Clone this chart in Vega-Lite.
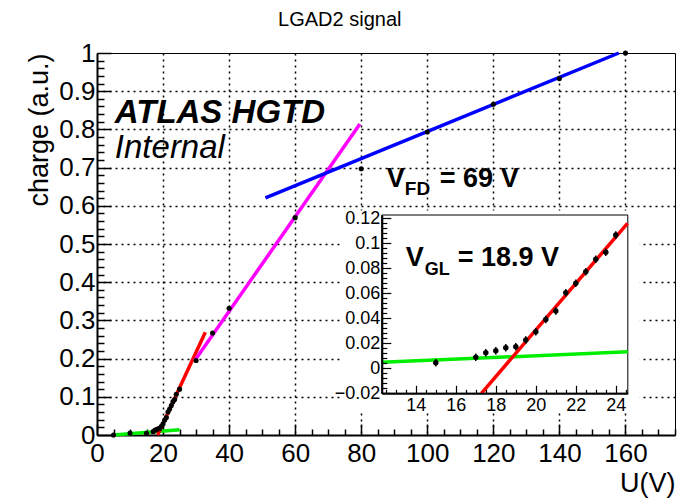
{
  "$schema": "https://vega.github.io/schema/vega-lite/v6.json",
  "width": 578,
  "height": 382,
  "autosize": {"type": "none"},
  "padding": {"left": 97, "top": 53, "right": 6, "bottom": 65},
  "background": "white",
  "config": {
    "view": {"stroke": "black", "strokeWidth": 1},
    "font": "Liberation Sans",
    "text": {"font": "Liberation Sans", "color": "black"}
  },
  "datasets": {
    "pts": [
      {"U": 5, "q": 0.0, "err": 0.003},
      {"U": 10, "q": 0.005, "err": 0.003},
      {"U": 15, "q": 0.0045, "err": 0.003},
      {"U": 17, "q": 0.0088, "err": 0.003},
      {"U": 17.5, "q": 0.0125, "err": 0.003},
      {"U": 18, "q": 0.0141, "err": 0.003},
      {"U": 18.5, "q": 0.0165, "err": 0.003},
      {"U": 19, "q": 0.0173, "err": 0.003},
      {"U": 19.5, "q": 0.0227, "err": 0.003},
      {"U": 20, "q": 0.0293, "err": 0.003},
      {"U": 20.5, "q": 0.0392, "err": 0.003},
      {"U": 21, "q": 0.0459, "err": 0.003},
      {"U": 21.5, "q": 0.0605, "err": 0.003},
      {"U": 22, "q": 0.0681, "err": 0.003},
      {"U": 22.5, "q": 0.0774, "err": 0.003},
      {"U": 23, "q": 0.0873, "err": 0.003},
      {"U": 23.5, "q": 0.0929, "err": 0.003},
      {"U": 24, "q": 0.1068, "err": 0.003},
      {"U": 25, "q": 0.12, "err": 0.003},
      {"U": 30, "q": 0.195, "err": 0.003},
      {"U": 35, "q": 0.267, "err": 0.003},
      {"U": 40, "q": 0.332, "err": 0.003},
      {"U": 60, "q": 0.569, "err": 0.003},
      {"U": 80, "q": 0.697, "err": 0.003},
      {"U": 100, "q": 0.793, "err": 0.003},
      {"U": 120, "q": 0.866, "err": 0.003},
      {"U": 140, "q": 0.933, "err": 0.003},
      {"U": 160, "q": 1.0, "err": 0.003}
    ],
    "fits": [
      {"fit": "baseline", "U": 5, "q": 0.0},
      {"fit": "baseline", "U": 25, "q": 0.0138},
      {"fit": "gain", "U": 18.35, "q": 0.0},
      {"fit": "gain", "U": 32.8, "q": 0.269},
      {"fit": "depletion", "U": 29.5, "q": 0.194},
      {"fit": "depletion", "U": 79.6, "q": 0.814},
      {"fit": "bulk", "U": 51, "q": 0.621},
      {"fit": "bulk", "U": 158, "q": 1.0}
    ],
    "fitsInset": [
      {"fit": "baseline", "U": 12.3, "q": 0.0048},
      {"fit": "baseline", "U": 24.6, "q": 0.0133},
      {"fit": "gain", "U": 17.28, "q": -0.02},
      {"fit": "gain", "U": 24.585, "q": 0.1161}
    ],
    "insetGridU": [{"U": 14}, {"U": 16}, {"U": 18}, {"U": 20}, {"U": 22}, {"U": 24}],
    "insetGridQ": [{"q": 0}, {"q": 0.02}, {"q": 0.04}, {"q": 0.06}, {"q": 0.08}, {"q": 0.1}],
    "notes": [
      {"text": "LGAD2 signal", "U": 73.5, "q": 1.0695, "kind": "title"},
      {"text": "ATLAS HGTD", "U": 5.4, "q": 0.818, "kind": "atlas"},
      {"text": "Internal", "U": 5.4, "q": 0.726, "kind": "internal"},
      {"text": "V", "U": 87.7, "q": 0.65, "kind": "big"},
      {"text": "FD", "U": 93.2, "q": 0.629, "kind": "sub"},
      {"text": "= 69 V", "U": 103.8, "q": 0.65, "kind": "big"}
    ],
    "notesInset": [
      {"text": "V", "U": 13.5, "q": 0.0819, "kind": "big"},
      {"text": "GL", "U": 14.45, "q": 0.0747, "kind": "sub"},
      {"text": "= 18.9 V", "U": 16.1, "q": 0.0819, "kind": "big"}
    ],
    "insetBox": [
      {"part": "pad", "U": 10.2, "U2": 25.2, "q": -0.035, "q2": 0.1265},
      {"part": "frame", "U": 12.3, "U2": 24.6, "q": -0.02, "q2": 0.1228}
    ]
  },
  "layer": [
    {
      "encoding": {
        "x": {
          "field": "U", "type": "quantitative",
          "scale": {"domain": [0, 175], "nice": false, "zero": false},
          "axis": {
            "title": "U(V)", "titleAnchor": "end", "titleFontSize": 27, "titleFontWeight": "normal", "titleColor": "black", "titlePadding": -1,
            "values": [0,5,10,15,20,25,30,35,40,45,50,55,60,65,70,75,80,85,90,95,100,105,110,115,120,125,130,135,140,145,150,155,160,165,170,175],
            "format": "~g",
            "labelExpr": "datum.value % 20 === 0 ? datum.label : ''",
            "labelFontSize": 26, "labelColor": "black", "labelPadding": 16, "labelFlush": false, "labelOverlap": false, "labelBound": false,
            "tickSize": {"condition": {"test": "datum.value % 20 === 0", "value": -11}, "value": -6},
            "tickColor": "black", "tickWidth": 1.5,
            "domainColor": "black", "domainWidth": 2,
            "grid": true, "gridColor": "black", "gridDash": [2, 4], "gridWidth": 1.5,
            "gridOpacity": {"condition": {"test": "datum.value % 20 === 0 && datum.value > 0", "value": 1}, "value": 0}
          }
        },
        "y": {
          "field": "q", "type": "quantitative",
          "scale": {"domain": [0, 1], "nice": false, "zero": false},
          "axis": {
            "title": "charge (a.u.)", "titleAnchor": "end", "titleFontSize": 27, "titleFontWeight": "normal", "titleColor": "black", "titlePadding": 5,
            "values": [0,0.02,0.04,0.06,0.08,0.1,0.12,0.14,0.16,0.18,0.2,0.22,0.24,0.26,0.28,0.3,0.32,0.34,0.36,0.38,0.4,0.42,0.44,0.46,0.48,0.5,0.52,0.54,0.56,0.58,0.6,0.62,0.64,0.66,0.68,0.7,0.72,0.74,0.76,0.78,0.8,0.82,0.84,0.86,0.88,0.9,0.92,0.94,0.96,0.98,1],
            "format": "~g",
            "labelExpr": "abs(datum.value*10 - round(datum.value*10)) < 1e-6 ? datum.label : ''",
            "labelFontSize": 26, "labelColor": "black", "labelPadding": 16, "labelFlush": false, "labelOverlap": false, "labelBound": false,
            "tickSize": {"condition": {"test": "abs(datum.value*10 - round(datum.value*10)) < 1e-6", "value": -14}, "value": -7},
            "tickColor": "black", "tickWidth": 1.5,
            "domainColor": "black", "domainWidth": 2,
            "grid": true, "gridColor": "black", "gridDash": [2, 4], "gridWidth": 1.5,
            "gridOpacity": {"condition": {"test": "abs(datum.value*10 - round(datum.value*10)) < 1e-6 && datum.value > 0.05 && datum.value < 0.95", "value": 1}, "value": 0}
          }
        }
      },
      "layer": [
        {
          "data": {"name": "fits"},
          "mark": {"type": "line", "strokeWidth": 3.5},
          "encoding": {
            "color": {"field": "fit", "type": "nominal", "legend": null,
              "scale": {"domain": ["baseline", "gain", "depletion", "bulk"], "range": ["#00ee00", "#ff0000", "#ff00ff", "#0000ff"]}},
            "detail": {"field": "fit"}
          }
        },
        {
          "data": {"name": "pts"},
          "mark": {"type": "circle", "color": "black", "opacity": 1, "size": 26}
        },
        {
          "data": {"name": "notes"},
          "transform": [{"filter": "datum.kind === 'title'"}],
          "mark": {"type": "text", "align": "center", "baseline": "alphabetic", "fontSize": 20, "color": "black"},
          "encoding": {"text": {"field": "text"}}
        },
        {
          "data": {"name": "notes"},
          "transform": [{"filter": "datum.kind === 'atlas'"}],
          "mark": {"type": "text", "align": "left", "baseline": "alphabetic", "fontSize": 33, "fontWeight": "bold", "fontStyle": "italic", "color": "black"},
          "encoding": {"text": {"field": "text"}}
        },
        {
          "data": {"name": "notes"},
          "transform": [{"filter": "datum.kind === 'internal'"}],
          "mark": {"type": "text", "align": "left", "baseline": "alphabetic", "fontSize": 33, "fontStyle": "italic", "color": "black"},
          "encoding": {"text": {"field": "text"}}
        },
        {
          "data": {"name": "notes"},
          "transform": [{"filter": "datum.kind === 'big'"}],
          "mark": {"type": "text", "align": "left", "baseline": "alphabetic", "fontSize": 27, "fontWeight": "bold", "color": "black"},
          "encoding": {"text": {"field": "text"}}
        },
        {
          "data": {"name": "notes"},
          "transform": [{"filter": "datum.kind === 'sub'"}],
          "mark": {"type": "text", "align": "left", "baseline": "alphabetic", "fontSize": 19, "fontWeight": "bold", "color": "black"},
          "encoding": {"text": {"field": "text"}}
        }
      ]
    },
    {
      "encoding": {
        "x": {
          "field": "U", "type": "quantitative",
          "scale": {"domain": [12.3, 24.6], "range": [284.8, 530.8], "nice": false, "zero": false},
          "axis": {
            "title": null, "orient": "bottom", "offset": -41.7, "zindex": 1,
            "values": [12.5,13,13.5,14,14.5,15,15.5,16,16.5,17,17.5,18,18.5,19,19.5,20,20.5,21,21.5,22,22.5,23,23.5,24,24.5],
            "format": "~g",
            "labelExpr": "datum.value % 2 === 0 ? datum.label : ''",
            "labelFontSize": 18, "labelColor": "black", "labelPadding": 11, "labelFlush": false, "labelOverlap": false, "labelBound": false,
            "tickSize": {"condition": {"test": "datum.value % 2 === 0", "value": -8}, "value": -4},
            "tickColor": "black", "tickWidth": 1.2,
            "domainColor": "black", "domainWidth": 2,
            "grid": false
          }
        },
        "y": {
          "field": "q", "type": "quantitative",
          "scale": {"domain": [-0.02, 0.1228], "range": [340.3, 162], "nice": false, "zero": false},
          "axis": {
            "title": null, "orient": "left", "offset": -284.8, "zindex": 1,
            "values": [-0.02,-0.016,-0.012,-0.008,-0.004,0,0.004,0.008,0.012,0.016,0.02,0.024,0.028,0.032,0.036,0.04,0.044,0.048,0.052,0.056,0.06,0.064,0.068,0.072,0.076,0.08,0.084,0.088,0.092,0.096,0.1,0.104,0.108,0.112,0.116,0.12],
            "format": "~g",
            "labelExpr": "abs(datum.value*50 - round(datum.value*50)) < 1e-6 ? datum.label : ''",
            "labelFontSize": 18, "labelColor": "black", "labelPadding": 11, "labelFlush": false, "labelOverlap": false, "labelBound": false,
            "tickSize": {"condition": {"test": "abs(datum.value*50 - round(datum.value*50)) < 1e-6", "value": -9}, "value": -5},
            "tickColor": "black", "tickWidth": 1.2,
            "domainColor": "black", "domainWidth": 2,
            "grid": false
          }
        }
      },
      "layer": [
        {
          "data": {"name": "insetBox"},
          "transform": [{"filter": "datum.part === 'pad'"}],
          "mark": {"type": "rect", "fill": "white", "stroke": null},
          "encoding": {"x2": {"field": "U2"}, "y2": {"field": "q2"}}
        },
        {
          "data": {"name": "insetBox"},
          "transform": [{"filter": "datum.part === 'frame'"}],
          "mark": {"type": "rect", "fill": "white", "stroke": "black", "strokeWidth": 1},
          "encoding": {"x2": {"field": "U2"}, "y2": {"field": "q2"}}
        },
        {
          "data": {"name": "insetGridU"},
          "mark": {"type": "rule", "color": "black", "strokeDash": [2, 4], "strokeWidth": 1.5},
          "encoding": {"y": {"datum": -0.02}, "y2": {"datum": 0.1228}}
        },
        {
          "data": {"name": "insetGridQ"},
          "mark": {"type": "rule", "color": "black", "strokeDash": [2, 4], "strokeWidth": 1.5},
          "encoding": {"x": {"datum": 12.3}, "x2": {"datum": 24.6}}
        },
        {
          "data": {"name": "fitsInset"},
          "mark": {"type": "line", "strokeWidth": 3.5},
          "encoding": {
            "color": {"field": "fit", "type": "nominal", "legend": null,
              "scale": {"domain": ["baseline", "gain"], "range": ["#00ee00", "#ff0000"]}},
            "detail": {"field": "fit"}
          }
        },
        {
          "data": {"name": "pts"},
          "transform": [{"filter": "datum.U > 12.3 && datum.U < 24.6"}],
          "mark": {"type": "errorbar", "ticks": false, "color": "black", "thickness": 1.5},
          "encoding": {"yError": {"field": "err"}}
        },
        {
          "data": {"name": "pts"},
          "transform": [{"filter": "datum.U > 12.3 && datum.U < 24.6"}],
          "mark": {"type": "circle", "color": "black", "opacity": 1, "size": 30}
        },
        {
          "data": {"name": "notesInset"},
          "transform": [{"filter": "datum.kind === 'big'"}],
          "mark": {"type": "text", "align": "left", "baseline": "alphabetic", "fontSize": 27, "fontWeight": "bold", "color": "black"},
          "encoding": {"text": {"field": "text"}}
        },
        {
          "data": {"name": "notesInset"},
          "transform": [{"filter": "datum.kind === 'sub'"}],
          "mark": {"type": "text", "align": "left", "baseline": "alphabetic", "fontSize": 18, "fontWeight": "bold", "color": "black"},
          "encoding": {"text": {"field": "text"}}
        }
      ]
    }
  ],
  "resolve": {"scale": {"x": "independent", "y": "independent", "color": "independent"}}
}
